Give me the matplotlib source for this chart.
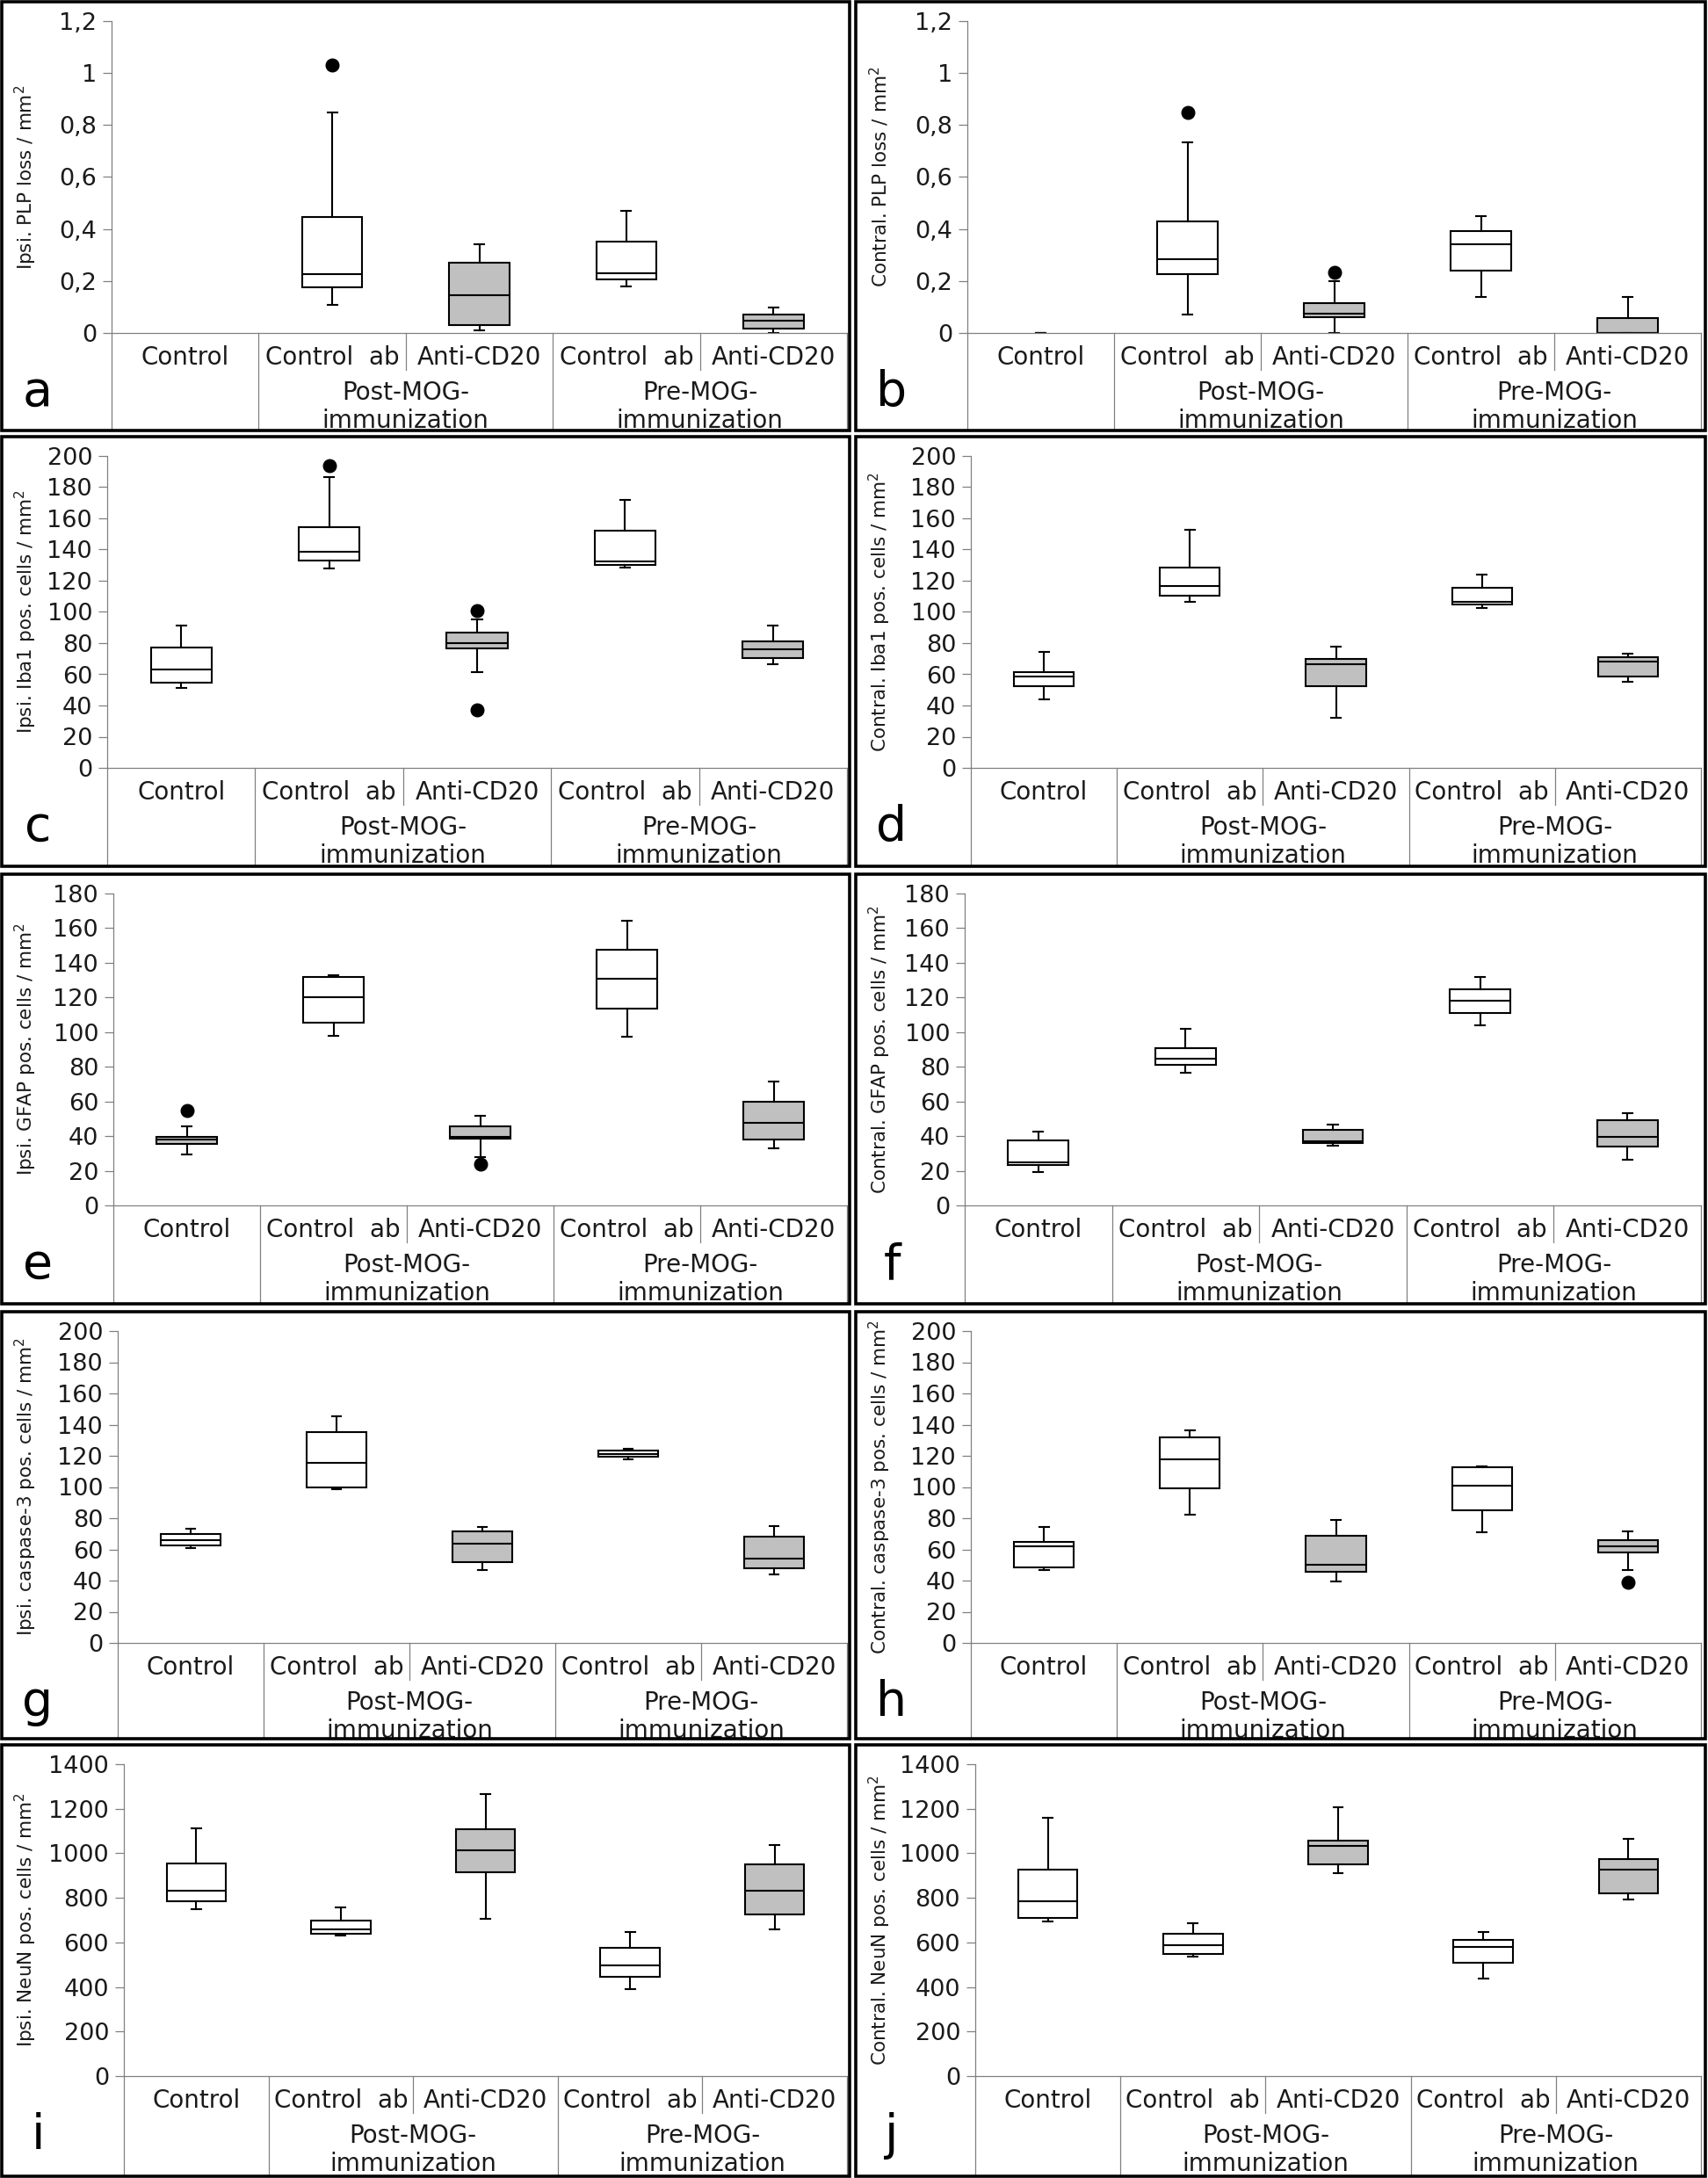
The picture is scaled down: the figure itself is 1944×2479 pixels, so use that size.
import matplotlib
matplotlib.use("Agg")
import matplotlib.pyplot as plt
import numpy as np
from matplotlib.patches import Rectangle
from matplotlib.ticker import FuncFormatter

# category labels of the two-level x axis
groups = ["Control", "Control  ab", "Anti-CD20", "Control  ab", "Anti-CD20"]
super_groups = ["Post-MOG-\nimmunization", "Pre-MOG-\nimmunization"]

# box statistics per category: [whislo, q1, median, q3, whishi]
a_box = [None, [0.109, 0.177, 0.227, 0.446, 0.848], [0.010, 0.030, 0.145, 0.270, 0.340],
         [0.180, 0.205, 0.229, 0.350, 0.471], [0.0, 0.017, 0.047, 0.072, 0.098]]
a_out = [[], [1.03], [], [], []]

b_box = [[0, 0, 0, 0, 0], [0.070, 0.227, 0.284, 0.428, 0.733], [0.0, 0.062, 0.076, 0.116, 0.200],
         [0.140, 0.239, 0.340, 0.393, 0.451], [0.0, 0.0, 0.0, 0.056, 0.140]]
b_out = [[], [0.85], [0.232], [], []]

c_box = [[51.2, 54.4, 63.1, 77.3, 91.0], [128.0, 133.1, 138.4, 154.5, 186.7], [61.2, 76.4, 80.2, 86.6, 95.0],
         [128.5, 130.0, 132.5, 152.0, 171.8], [66.4, 70.3, 76.0, 81.3, 91.0]]
c_out = [[], [193.9], [100.7, 37.0], [], []]

d_box = [[44.2, 52.6, 58.6, 61.4, 74.1], [106.7, 110.3, 116.4, 128.5, 152.8], [31.9, 52.6, 66.4, 70.0, 78.0],
         [102.6, 104.7, 106.7, 115.3, 124.1], [55.0, 58.6, 68.1, 70.9, 73.5]]
d_out = [[], [], [], [], []]

e_box = [[29.4, 35.4, 37.8, 39.8, 45.7], [97.9, 105.4, 120.0, 132.0, 132.6], [28.0, 38.3, 39.5, 45.8, 51.7],
         [97.2, 113.8, 131.0, 147.8, 164.5], [33.1, 37.8, 47.5, 59.8, 71.4]]
e_out = [[54.9], [], [23.8], [], []]

f_box = [[19.5, 23.2, 24.9, 37.6, 42.6], [76.8, 81.2, 84.9, 90.7, 101.8], [34.7, 35.9, 37.2, 43.5, 46.9],
         [104.0, 111.0, 117.9, 124.9, 131.8], [26.2, 34.2, 39.8, 49.4, 53.3]]
f_out = [[], [], [], [], []]

g_box = [[60.7, 62.6, 65.8, 70.1, 73.1], [98.7, 99.8, 115.6, 135.0, 145.5], [47.0, 52.1, 63.7, 71.8, 74.2],
         [117.7, 119.4, 121.4, 123.1, 124.4], [43.8, 47.9, 54.1, 68.4, 74.8]]
g_out = [[], [], [], [], []]

h_box = [[46.5, 48.7, 62.0, 64.7, 74.6], [82.1, 99.0, 117.5, 132.0, 136.1], [39.4, 45.5, 50.2, 68.8, 78.7],
         [71.2, 84.9, 100.7, 112.5, 113.2], [47.0, 58.3, 62.2, 66.0, 71.8]]
h_out = [[], [], [], [], [38.8]]

i_box = [[748, 784, 831, 956, 1111], [631, 637, 659, 699, 757], [706, 914, 1015, 1110, 1266],
         [392, 445, 498, 574, 648], [659, 726, 833, 949, 1037]]
i_out = [[], [], [], [], []]

j_box = [[696, 709, 783, 927, 1159], [537, 548, 588, 639, 687], [910, 952, 1035, 1058, 1206],
         [438, 509, 581, 612, 645], [793, 819, 927, 974, 1066]]
j_out = [[], [], [], [], []]

WHITE, GRAY = "white", "#c0c0c0"
fill_std = [WHITE, WHITE, GRAY, WHITE, GRAY]
fill_e = [GRAY, WHITE, GRAY, WHITE, GRAY]

ylabels = [
    "Ipsi. PLP loss / mm$^2$", "Contral. PLP loss / mm$^2$",
    "Ipsi. Iba1 pos. cells / mm$^2$", "Contral. Iba1 pos. cells / mm$^2$",
    "Ipsi. GFAP pos. cells / mm$^2$", "Contral. GFAP pos. cells / mm$^2$",
    "Ipsi. caspase-3 pos. cells / mm$^2$", "Contral. caspase-3 pos. cells / mm$^2$",
    "Ipsi. NeuN pos. cells / mm$^2$", "Contral. NeuN pos. cells / mm$^2$",
]

# figure layout in pixels
W, H = 1944, 2479
COLS = [(2, 967), (974, 1941)]
ROWS = [(2, 490), (497, 986), (995, 1484), (1493, 1979), (1986, 2477)]
AXIS_GRAY = "#808080"
TXT = "#1a1a1a"

plt.rcParams["font.family"] = ["DejaVu Sans"]
plt.rcParams["mathtext.fontset"] = "dejavusans"

fig = plt.figure(figsize=(W / 100, H / 100), dpi=100)


def comma_fmt(v, pos):
    return ("%g" % round(v, 2)).replace(".", ",")


def draw_panel(idx, letter, boxes, outs, fills, ymax, step, ylabel, yoff, comma=False):
    r, c = divmod(idx, 2)
    x0, x1 = COLS[c]
    y0, y1 = ROWS[r]
    fig.add_artist(Rectangle((x0 / W, 1 - y1 / H), (x1 - x0) / W, (y1 - y0) / H,
                             transform=fig.transFigure, fill=False, lw=2.6,
                             ec="black", zorder=10))
    left, right = x0 + yoff, x0 + 962
    top, zero = y0 + 22, y0 + 377
    ax = fig.add_axes([left / W, 1 - zero / H, (right - left) / W, (zero - top) / H])
    ax.patch.set_alpha(0)

    stats, pos, widths = [], [], []
    for k, (b, o) in enumerate(zip(boxes, outs)):
        if b is None:
            continue
        stats.append(dict(whislo=b[0], q1=b[1], med=b[2], q3=b[3], whishi=b[4], fliers=o))
        pos.append(k + 1)
        widths.append(0.066 if b[4] == b[0] else 0.41)

    lw = 1.5
    art = ax.bxp(stats, positions=pos, widths=widths, capwidths=0.066,
                 patch_artist=True, showfliers=True,
                 boxprops=dict(edgecolor="black", linewidth=lw),
                 whiskerprops=dict(color="black", linewidth=lw),
                 capprops=dict(color="black", linewidth=lw),
                 medianprops=dict(color="black", linewidth=lw),
                 flierprops=dict(marker="o", markerfacecolor="black",
                                 markeredgecolor="black", markersize=10.5))
    for patch, k in zip(art["boxes"], pos):
        patch.set_facecolor(fills[k - 1])

    ax.set_xlim(0.5, 5.5)
    ax.set_ylim(0, ymax)
    ax.set_yticks(np.arange(0, ymax + step / 2, step))
    if comma:
        ax.yaxis.set_major_formatter(FuncFormatter(comma_fmt))
    ax.set_xticks([])
    ax.tick_params(axis="y", length=7.2, width=0.9, color=AXIS_GRAY, pad=5,
                   labelsize=19.5, labelcolor=TXT)
    for s in ("top", "right"):
        ax.spines[s].set_visible(False)
    for s in ("left", "bottom"):
        ax.spines[s].set_color(AXIS_GRAY)
        ax.spines[s].set_linewidth(0.9)

    # two-level category table under the axis
    hpx = zero - top
    tr = ax.get_xaxis_transform()
    for xv, full in [(0.5, True), (1.5, True), (2.5, False), (3.5, True), (4.5, False), (5.5, True)]:
        end = (y1 - zero - 1) if full else 42
        ax.plot([xv, xv], [0, -end / hpx], transform=tr, color=AXIS_GRAY,
                lw=0.9, clip_on=False)
    for k, name in enumerate(groups):
        ax.text(k + 1, -28 / hpx, name, transform=tr, ha="center", va="center",
                fontsize=20, color=TXT)
    for xv, name in zip([2.5, 4.5], super_groups):
        ax.text(xv, -84 / hpx, name, transform=tr, ha="center", va="center",
                fontsize=20, color=TXT, linespacing=1.2)

    fig.text((x0 + 27) / W, 1 - ((top + zero) / 2) / H, ylabel, rotation=90,
             ha="center", va="center", fontsize=15.5, color=TXT)
    fig.text((x0 + 41) / W, 1 - (zero + 83) / H, letter, ha="center", va="baseline",
             fontsize=40, color="black",
             family=["Liberation Sans Narrow", "DejaVu Sans"])


draw_panel(0, "a", a_box, a_out, fill_std, 1.2, 0.2, ylabels[0], 125, comma=True)
draw_panel(1, "b", b_box, b_out, fill_std, 1.2, 0.2, ylabels[1], 127, comma=True)
draw_panel(2, "c", c_box, c_out, fill_std, 200, 20, ylabels[2], 120)
draw_panel(3, "d", d_box, d_out, fill_std, 200, 20, ylabels[3], 131)
draw_panel(4, "e", e_box, e_out, fill_e, 180, 20, ylabels[4], 127)
draw_panel(5, "f", f_box, f_out, fill_std, 180, 20, ylabels[5], 124)
draw_panel(6, "g", g_box, g_out, fill_std, 200, 20, ylabels[6], 132)
draw_panel(7, "h", h_box, h_out, fill_std, 200, 20, ylabels[7], 131)
draw_panel(8, "i", i_box, i_out, fill_std, 1400, 200, ylabels[8], 139)
draw_panel(9, "j", j_box, j_out, fill_std, 1400, 200, ylabels[9], 136)

fig.savefig("out.png", dpi=100, facecolor="white")
